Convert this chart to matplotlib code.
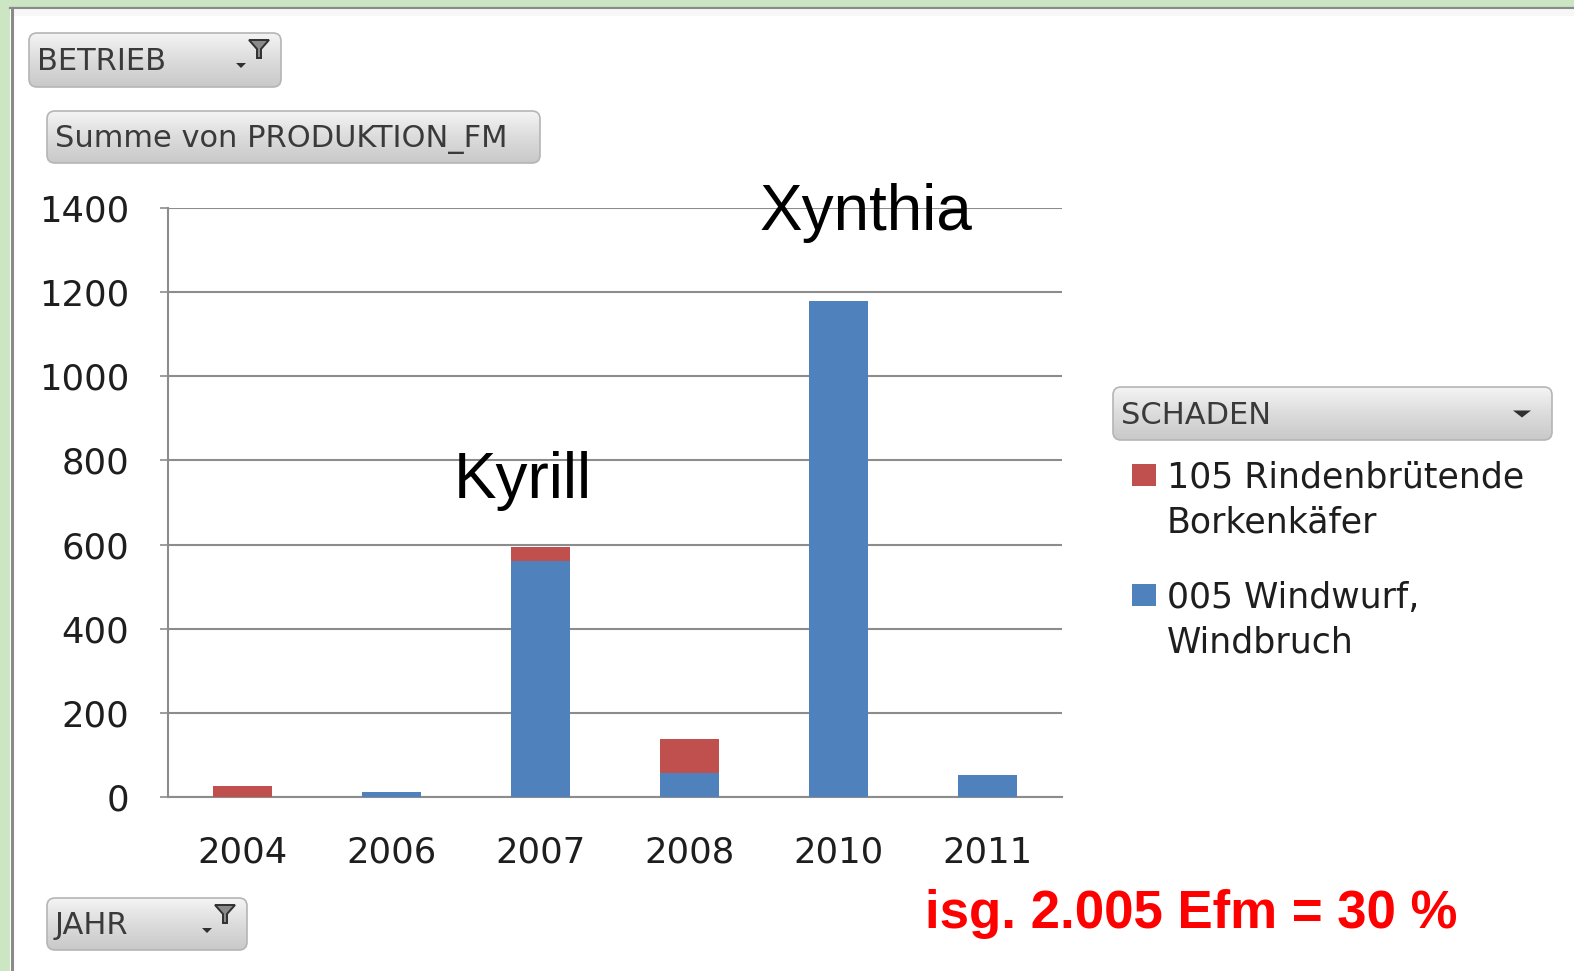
import matplotlib
matplotlib.use("Agg")
import matplotlib.pyplot as plt
import numpy as np
from matplotlib.patches import FancyBboxPatch, Rectangle, Polygon
from matplotlib.colors import LinearSegmentedColormap

# ---- data ----
years = ["2004", "2006", "2007", "2008", "2010", "2011"]
windwurf = [0, 12, 560, 58, 1180, 52]        # 005 Windwurf, Windbruch (blue)
borkenkaefer = [25, 0, 35, 80, 0, 0]          # 105 Rindenbrütende Borkenkäfer (red)
yticks = [0, 200, 400, 600, 800, 1000, 1200, 1400]
legend_labels = ["105 Rindenbrütende\nBorkenkäfer", "005 Windwurf,\nWindbruch"]

BLUE = "#4F81BD"
RED = "#C0504D"
GREEN = "#cce6c4"
W, H = 1574, 971

fig = plt.figure(figsize=(W / 100, H / 100), dpi=100)
fig.patch.set_facecolor("white")

# background / decoration axes in pixel coordinates
bg = fig.add_axes([0, 0, 1, 1], zorder=0)
bg.set_xlim(0, W)
bg.set_ylim(H, 0)
bg.axis("off")
bg.add_patch(Rectangle((0, 0), W, 8, color=GREEN, lw=0))
bg.add_patch(Rectangle((0, 0), 10, H, color=GREEN, lw=0))
bg.plot([10, W], [8.5, 8.5], color="#8a8a8a", lw=1.6)
bg.plot([11.5, 11.5], [8, H], color="#8a8a8a", lw=2.2)
bg.add_patch(Rectangle((13, 10), W, 6, color="#f7f7f7", lw=0))

grad = np.linspace(0, 1, 64).reshape(-1, 1)
cmap_btn = LinearSegmentedColormap.from_list("btn", ["#f4f4f4", "#dcdcdc", "#c9c9c9"])


def button(x0, y0, x1, y1, label, fs, funnel=False, arrow=False):
    box = FancyBboxPatch((x0, y0), x1 - x0, y1 - y0,
                         boxstyle="round,pad=0,rounding_size=8",
                         fc="none", ec="#b5b5b5", lw=1.2, zorder=2)
    bg.add_patch(box)
    im = bg.imshow(grad, extent=(x0, x1, y1, y0), cmap=cmap_btn,
                   aspect="auto", zorder=1, interpolation="bilinear")
    im.set_clip_path(box)
    bg.text(x0 + 8, (y0 + y1) / 2 + 2, label, fontsize=fs, color="#3a3a3a",
            va="center", ha="left", family="DejaVu Sans", zorder=3)
    if funnel:
        fx, fy = x1 - 22, y0 + 7
        bg.add_patch(Polygon([[fx - 10, fy], [fx + 10, fy], [fx + 2, fy + 9],
                              [fx + 2, fy + 18], [fx - 2, fy + 18], [fx - 2, fy + 9]],
                             closed=True, fc="#8a8a8a", ec="#303030", lw=1.4, zorder=3))
        ax_, ay_ = x1 - 40, y0 + 30
        bg.add_patch(Polygon([[ax_ - 5, ay_], [ax_ + 5, ay_], [ax_, ay_ + 5]],
                             closed=True, fc="#303030", lw=0, zorder=3))
    if arrow:
        ax_, ay_ = x1 - 30, (y0 + y1) / 2 - 3
        bg.add_patch(Polygon([[ax_ - 9, ay_], [ax_ + 9, ay_], [ax_, ay_ + 7]],
                             closed=True, fc="#303030", lw=0, zorder=3))


button(29, 33, 281, 87, "BETRIEB", 22, funnel=True)
button(47, 111, 540, 163, "Summe von PRODUKTION_FM", 22)
button(47, 898, 247, 950, "JAHR", 22, funnel=True)
button(1113, 387, 1552, 440, "SCHADEN", 22, arrow=True)

# legend (manual, pixel-placed)
leg_y = [475, 595]
for col, lab, yy in zip([RED, BLUE], legend_labels, leg_y):
    bg.add_patch(Rectangle((1132, yy - 11), 24, 22, color=col, lw=0))
    bg.text(1167, yy - 14, lab, fontsize=25, color="#1e1e1e", va="top",
            ha="left", family="DejaVu Sans", linespacing=1.4)

# ---- main chart ----
ax = fig.add_axes([168 / W, 1 - 797 / H, (1062 - 168) / W, (797 - 208) / H], zorder=1)
ax.set_facecolor("none")
x = np.arange(len(years))
ax.bar(x, windwurf, width=0.39, color=BLUE, zorder=3)
ax.bar(x, borkenkaefer, width=0.39, bottom=windwurf, color=RED, zorder=3)
ax.set_xlim(-0.5, len(years) - 0.5)
ax.set_ylim(0, 1400)
ax.set_yticks(yticks)
ax.set_yticklabels([str(v) for v in yticks])
ax.set_xticks(x)
ax.set_xticklabels(years)
ax.yaxis.grid(True, color="#8c8c8c", lw=1.5, zorder=0)
ax.set_axisbelow(True)
for s in ["top", "right"]:
    ax.spines[s].set_visible(False)
ax.spines["left"].set_color("#8c8c8c")
ax.spines["bottom"].set_color("#8c8c8c")
ax.spines["left"].set_linewidth(1.5)
ax.spines["bottom"].set_linewidth(1.5)
ax.tick_params(axis="y", length=6, width=1.2, color="#8c8c8c", pad=22,
               labelsize=25.5, labelcolor="#1e1e1e")
ax.tick_params(axis="x", length=0, pad=28, labelsize=25.5, labelcolor="#1e1e1e")
for t in ax.get_xticklabels() + ax.get_yticklabels():
    t.set_family("DejaVu Sans")

# annotations
top = fig.add_axes([0, 0, 1, 1], zorder=2)
top.set_xlim(0, W)
top.set_ylim(H, 0)
top.axis("off")
top.text(866, 230, "Xynthia", fontsize=46, family="Liberation Sans",
         ha="center", va="baseline", color="black")
top.text(523, 498, "Kyrill", fontsize=46, family="Liberation Sans",
         ha="center", va="baseline", color="black")
top.text(1191, 928, "isg. 2.005 Efm = 30 %", fontsize=38, family="Liberation Sans",
         weight="bold", ha="center", va="baseline", color="#ff0000")

fig.savefig("out.png", dpi=100)
